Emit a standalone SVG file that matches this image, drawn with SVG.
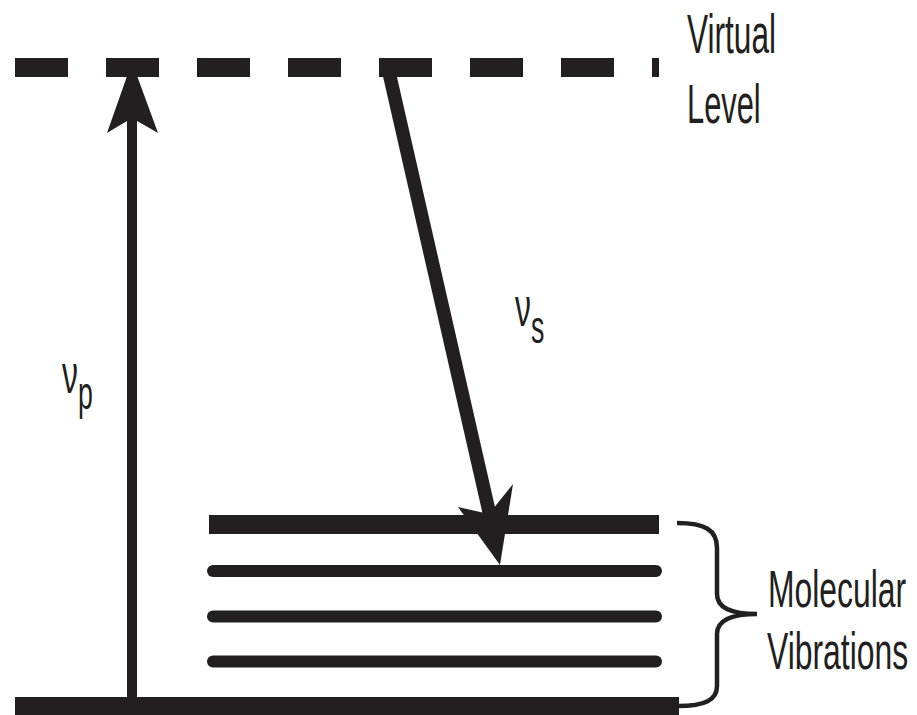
<svg xmlns="http://www.w3.org/2000/svg" width="917" height="715" viewBox="0 0 917 715">
<style>
.ink{fill:#231f20}
.lbl{font-family:"Liberation Sans",Arial,sans-serif;fill:#231f20}
.vib{stroke:#231f20;stroke-width:12;stroke-linecap:round;fill:none}
</style>
<rect width="917" height="715" fill="#ffffff"/>
<g id="virtual-level">
<line x1="15" y1="67.5" x2="659" y2="67.5" stroke="#231f20" stroke-width="19" stroke-dasharray="53 38"/>
<text class="lbl" font-size="55" transform="translate(687,53) scale(0.575,1)">Virtual</text>
<text class="lbl" font-size="55" transform="translate(687,123) scale(0.56,1)">Level</text>
</g>
<g id="ground-level">
<rect class="ink" x="15" y="697" width="664" height="18"/>
</g>
<g id="molecular-vibrations">
<rect class="ink" x="209" y="515" width="450" height="19"/>
<line class="vib" x1="213" y1="571" x2="656" y2="571"/>
<line class="vib" x1="213" y1="616.5" x2="656" y2="616.5"/>
<line class="vib" x1="213" y1="661.5" x2="656" y2="661.5"/>
<path d="M677,523 C705,523 717,530 717,548 L717,594 C717,607 729,614 757,614 C729,614 717,621 717,634 L717,686 C717,700 705,706 678,706" fill="none" stroke="#231f20" stroke-width="4.5"/>
<text class="lbl" font-size="51" transform="translate(768,607) scale(0.625,1)">Molecular</text>
<text class="lbl" font-size="51" transform="translate(767,669) scale(0.625,1)">Vibrations</text>
</g>
<g id="connectors">
<g id="pump">
<line x1="132" y1="100" x2="132" y2="697" stroke="#231f20" stroke-width="10"/>
<polygon class="ink" points="132,62 158,133 132,118 107,133"/>
<text class="lbl" font-size="55" transform="translate(62,393) scale(0.58,1)">ν<tspan font-size="46" dy="16">p</tspan></text>
</g>
<g id="stokes">
<line x1="388" y1="68" x2="491" y2="520" stroke="#231f20" stroke-width="13.5"/>
<polygon class="ink" points="500,565 513,484 489,514 458,507"/>
<text class="lbl" font-size="55" transform="translate(515,326) scale(0.58,1)">ν<tspan font-size="46" dy="17">s</tspan></text>
</g>
</g>
</svg>
